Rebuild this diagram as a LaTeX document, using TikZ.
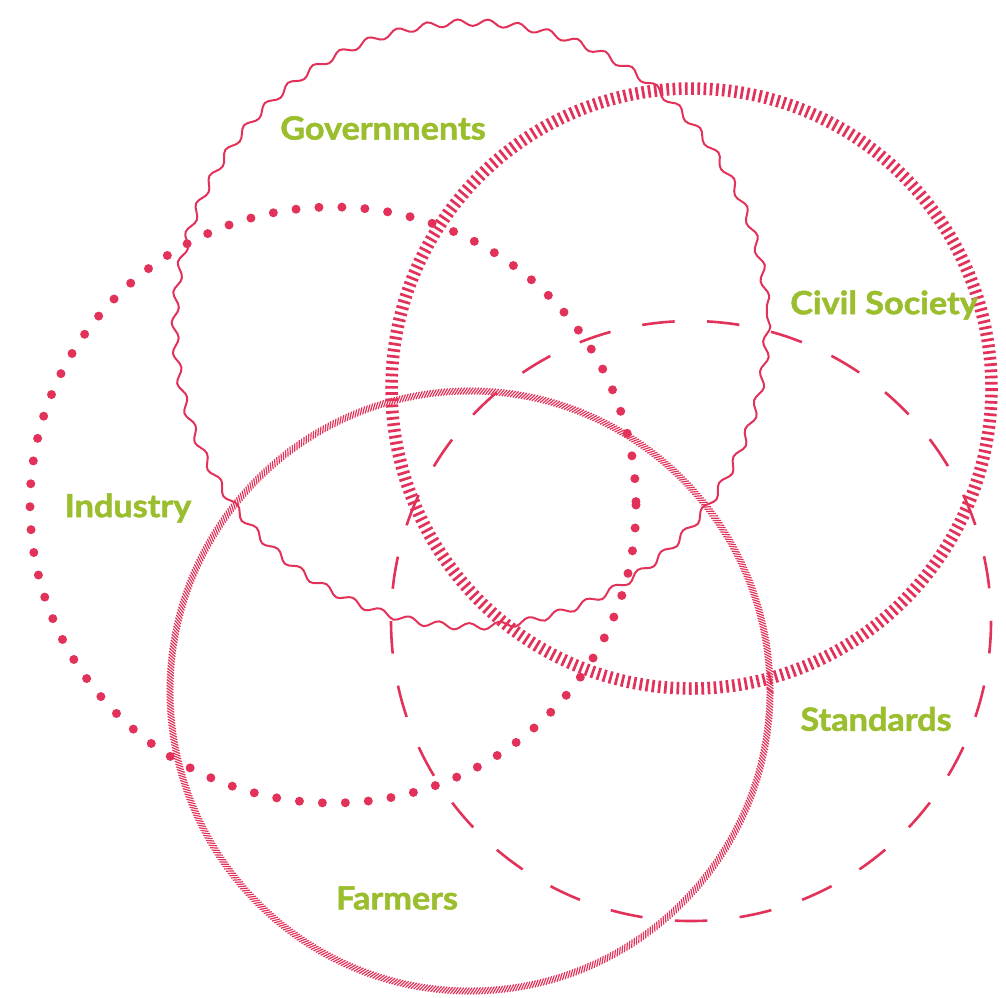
\documentclass[tikz,border=0pt]{standalone}
\usepackage{fontspec}
\setmainfont{Lato}
\newfontfamily\lblfont{Lato}[FakeStretch=1.07, BoldFeatures={FakeBold=1.6}]
\usetikzlibrary{decorations.pathmorphing,decorations.markings}
\definecolor{ringred}{RGB}{226,50,90}
\definecolor{labelgreen}{RGB}{155,190,46}
\begin{document}
\begin{tikzpicture}[x=1pt,y=-1pt,
  lbl/.style={font=\lblfont\fontsize{32}{38}\selectfont\bfseries, text=labelgreen, inner sep=0pt},
  wavy/.style={draw=ringred, line width=2pt, decorate,
    decoration={snake, amplitude=3.4pt, segment length={2*pi*299/62*1pt}}},
  thickhatch/.style={draw=ringred, line width=12.5pt, dash pattern=on 2.7pt off 3.5pt},
  dotring/.style={draw=ringred, line width=9pt, line cap=round, dash pattern=on 0pt off {2*pi*300/82*1pt}},
  dashring/.style={draw=ringred, line width=2.6pt, dash pattern=on {2*pi*300/58*1pt} off {2*pi*300/58*1pt}},
  thinhatch/.style={postaction={decorate, decoration={markings,
    mark=between positions 0 and 1 step 2.8pt with {\draw[ringred, line width=1.2pt] (-2.4pt,-3.4pt) -- (2.4pt,3.4pt);}}}}
]
\useasboundingbox (0,0) rectangle (1006,997);
% Governments (wavy)
\draw[wavy] (471,317) ellipse[x radius=296, y radius=302];
% Civil Society (thick hatched)
\draw[thickhatch] (691.5,388.5) circle[radius=300];
% Industry (dotted)
\draw[dotring] (333,505) ellipse[x radius=303, y radius=298];
% Standards (dashed)
\draw[dashring] (691,621) circle[radius=300];
% Farmers (thin hatched)
\path[thinhatch] (470,691) circle[radius=300];
% labels
\node[lbl] (gov) at (383,128) {Governments};
\node[lbl] (civ) at (884,305) {Civil Society};
\node[lbl] (ind) at (128,508) {Industry};
\node[lbl] (std) at (876,719) {Standards};
\node[lbl] (farm) at (397,898) {Farmers};
\end{tikzpicture}
\end{document}
